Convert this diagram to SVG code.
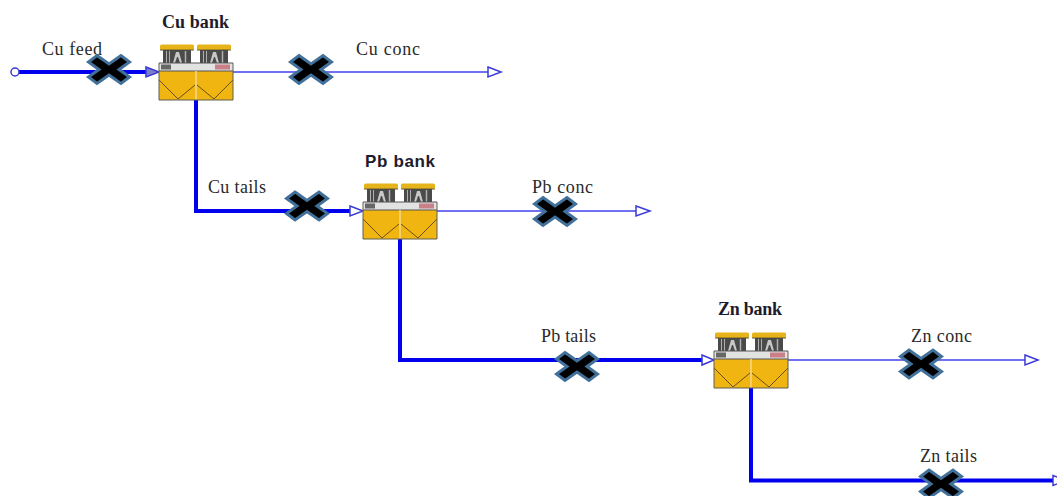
<svg xmlns="http://www.w3.org/2000/svg" width="1057" height="496" viewBox="0 0 1057 496">
<style>
text{font-family:"Liberation Serif","Times New Roman",serif;font-size:18px;fill:#2a2a2a}
.t{font-weight:bold;fill:#1c1c2c}
.thick{fill:none;stroke:#0000ee;stroke-width:4}
.thin{fill:none;stroke:#7070f0;stroke-width:2}
.hd{fill:#fff;stroke:#3a3ad8;stroke-width:1.5}
.x{fill:#000;stroke:#41709a;stroke-width:3}
</style>
<defs>
<g id="cell">
<rect x="0" y="1.500" width="34" height="5.500" rx="1.500" fill="#e6b41a"/>
<path d="M0 7H34" stroke="#6b5a20" stroke-width="1"/>
<rect x="3" y="7" width="28" height="13" fill="#4a4a4a"/>
<path d="M6.500 8V20M9.500 8V20" stroke="#b0b0b0" stroke-width="1"/>
<path d="M13 20L16 9H19L22 20H20L18 14H17L15 20Z" fill="#c8c8c8"/>
<path d="M25.500 8V20" stroke="#b0b0b0" stroke-width="1.500"/>
</g>
<g id="unit">
<use href="#cell" x="1" y="0"/>
<use href="#cell" x="38" y="0"/>
<rect x="0" y="20" width="74" height="8" fill="#e2e2e2"/>
<path d="M0 20H74" stroke="#555" stroke-width="1.200"/>
<rect x="2" y="21.500" width="10" height="5" fill="#666"/>
<rect x="56" y="21.500" width="15" height="5" fill="#c98088"/>
<rect x="0" y="28" width="74" height="29" fill="#f0b510"/>
<path d="M0 28H74" stroke="#555" stroke-width="1.200"/>
<path d="M37 28V57" stroke="#f6d98a" stroke-width="1.500"/>
<path d="M0 37L19 56L36 42M38 42L55 56L74 37" fill="none" stroke="#6a5010" stroke-width="1"/>
<path d="M0 57H74M74 20V57M0 20V57" fill="none" stroke="#5f5f50" stroke-width="1"/>
</g>
<path id="xm" d="M-12-14L0-5.500L12-14L20.500-7.500L10 0L20.500 7.500L12 14L0 5.500L-12 14L-20.500 7.500L-10 0L-20.500-7.500Z"/>
</defs>
<g id="connectors">
<path class="thick" d="M19 72H146"/>
<path class="thick" d="M196 100V211H350"/>
<path class="thick" d="M400 239V360H702"/>
<path class="thick" d="M751 387V480.500H1053"/>
<path class="thin" d="M233 72H488"/>
<path class="thin" d="M437 211H636"/>
<path class="thin" d="M788 360H1025"/>
<circle cx="15" cy="72" r="4" fill="#fff" stroke="#3a3ad8" stroke-width="1.500"/>
<path d="M146 67L159 72L146 77Z" fill="#7f7fc8" stroke="#3a3ad8" stroke-width="1.500"/>
<path class="hd" d="M350 206L363 211L350 216Z"/>
<path class="hd" d="M702 355L714 360L702 365Z"/>
<path class="hd" d="M488 67L501 72L488 77Z"/>
<path class="hd" d="M636 206L650 211L636 216Z"/>
<path class="hd" d="M1025 355L1038 360L1025 365Z"/>
<path class="hd" d="M1053 475.500L1066 480.500L1053 485.500Z"/>
</g>
<g id="cu-bank"><use href="#unit" x="159" y="43"/><text class="t" x="162" y="28" textLength="67">Cu bank</text></g>
<g id="pb-bank"><use href="#unit" x="363" y="182"/><text class="t" x="365" y="167" textLength="70" style="font-family:'Liberation Sans',Arial,sans-serif;font-size:17px">Pb bank</text></g>
<g id="zn-bank"><use href="#unit" x="714" y="331"/><text class="t" x="718" y="315" textLength="64">Zn bank</text></g>
<g id="labels">
<text x="42" y="55" textLength="60">Cu feed</text>
<text x="356" y="55" textLength="64">Cu conc</text>
<text x="208" y="193" textLength="58">Cu tails</text>
<text x="532" y="193" textLength="61">Pb conc</text>
<text x="541" y="342" textLength="55">Pb tails</text>
<text x="911" y="342" textLength="61">Zn conc</text>
<text x="920" y="462" textLength="57">Zn tails</text>
</g>
<g id="crosses" class="x">
<use href="#xm" x="109" y="69.500"/>
<use href="#xm" x="311" y="69.500"/>
<use href="#xm" x="307" y="206"/>
<use href="#xm" x="555" y="211.500"/>
<use href="#xm" x="577" y="366.500"/>
<use href="#xm" x="921" y="364"/>
<use href="#xm" x="941" y="484"/>
</g>
</svg>
